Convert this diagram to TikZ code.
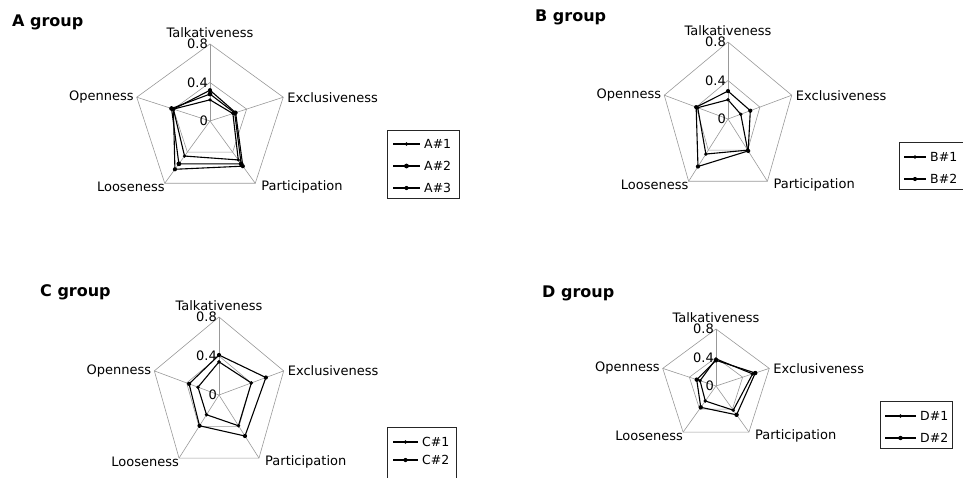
\documentclass[tikz,border=0pt]{standalone}
\usepackage{fontspec}
\setmainfont{DejaVu Sans}

\tikzset{
  gridline/.style={draw=black!40, line width=0.6pt},
  axlabel/.style={font=\fontsize{13}{15}\selectfont, inner sep=0pt},
  ticklabel/.style={font=\fontsize{13}{15}\selectfont, inner sep=0pt, anchor=east, xshift=-2pt},
  grouptitle/.style={font=\bfseries\fontsize{16}{18}\selectfont, anchor=west, inner sep=0pt},
  seriesline/.style={draw=black, line width=1.1pt, line join=round},
  legendbox/.style={draw=black!85, line width=1.3pt, anchor=north west, inner sep=0pt},
  legendtext/.style={font=\fontsize{12.5}{14}\selectfont, anchor=west, inner sep=0pt},
}

% Grid, spokes, axis names and tick labels of one radar chart (#1 = name prefix)
\newcommand\radarframe[1]{%
  \draw[gridline] (90:0.8) -- (18:0.8) -- (-54:0.8) -- (-126:0.8) -- (162:0.8) -- cycle;
  \draw[gridline] (90:0.4) -- (18:0.4) -- (-54:0.4) -- (-126:0.4) -- (162:0.4) -- cycle;
  \foreach \a in {90,18,-54,-126,162} \draw[gridline] (0,0) -- (\a:0.8);
  \node[axlabel, anchor=south, yshift=6pt] (#1-talk) at (90:0.8) {Talkativeness};
  \node[axlabel, anchor=west, xshift=4pt] (#1-excl) at (18:0.8) {Exclusiveness};
  \node[axlabel, anchor=west, xshift=6pt, yshift=-4pt] (#1-part) at (-54:0.8) {Participation};
  \node[axlabel, anchor=east, yshift=-4pt] (#1-loose) at (-126:0.8) {Looseness};
  \node[axlabel, anchor=east, xshift=-3pt] (#1-open) at (162:0.8) {Openness};
  \node[ticklabel] (#1-t8) at (90:0.8) {0.8};
  \node[ticklabel] (#1-t4) at (90:0.4) {0.4};
  \node[ticklabel] (#1-t0) at (0,0) {0};
}

% One data series: #1 marker radius, #2..#6 values for T, E, P, L, O
\newcommand\radarseries[6]{%
  \draw[seriesline] (90:#2) -- (18:#3) -- (-54:#4) -- (-126:#5) -- (162:#6) -- cycle;
  \foreach \a/\v in {90/#2,18/#3,-54/#4,-126/#5,162/#6} \fill (\a:\v) circle[radius=#1];
}

% Legend entry: #1 name, #2 line start x, #3 line end x, #4 y, #5 marker radius, #6 text
\newcommand\legendentry[6]{%
  \draw[seriesline] (#2,#4) -- (#3,#4);
  \fill ({(#2+#3)/2},#4) circle[radius=#5];
  \node[legendtext] (#1) at ({#3+4},#4) {#6};
}

\begin{document}
\begin{tikzpicture}[x=1pt, y=-1pt]
\useasboundingbox (0,0) rectangle (963,477);
\clip (0,0) rectangle (963,477);

% ---------- A group ----------
\node[grouptitle] (A-title) at (12,22) {A group};
\begin{scope}[shift={(210,121)}, x=96.25pt, y=96.25pt]
  \radarframe{A}
  \radarseries{1.8pt}{0.22}{0.25}{0.50}{0.45}{0.40}
  \radarseries{2.4pt}{0.28}{0.27}{0.55}{0.55}{0.42}
  \radarseries{2.1pt}{0.32}{0.28}{0.58}{0.62}{0.40}
\end{scope}
\node[legendbox, minimum width=72pt, minimum height=68pt] (A-leg) at (387,130) {};
\legendentry{A-l1}{393}{420}{144}{1.8pt}{A\#1}
\legendentry{A-l2}{393}{420}{166}{2.4pt}{A\#2}
\legendentry{A-l3}{393}{420}{188}{2.1pt}{A\#3}

% ---------- B group ----------
\node[grouptitle] (B-title) at (535,17) {B group};
\begin{scope}[shift={(728,119)}, x=83.75pt, y=96.25pt]
  \radarframe{B}
  \radarseries{1.9pt}{0.20}{0.16}{0.40}{0.45}{0.38}
  \radarseries{2.1pt}{0.29}{0.28}{0.41}{0.61}{0.40}
\end{scope}
\node[legendbox, minimum width=90pt, minimum height=47pt] (B-leg) at (899,142) {};
\legendentry{B-l1}{904}{926}{157}{1.9pt}{B\#1}
\legendentry{B-l2}{904}{926}{179}{2.1pt}{B\#2}

% ---------- C group ----------
\node[grouptitle] (C-title) at (40,292) {C group};
\begin{scope}[shift={(219,395)}, x=85pt, y=97.5pt]
  \radarframe{C}
  \radarseries{1.9pt}{0.34}{0.40}{0.39}{0.25}{0.26}
  \radarseries{2.1pt}{0.41}{0.58}{0.52}{0.39}{0.37}
\end{scope}
\node[legendbox, minimum width=69pt, minimum height=70pt] (C-leg) at (387,427) {};
\legendentry{C-l1}{393}{418}{442}{1.9pt}{C\#1}
\legendentry{C-l2}{393}{418}{460}{2.1pt}{C\#2}

% ---------- D group ----------
\node[grouptitle] (D-title) at (542,293) {D group};
\begin{scope}[shift={(716,386)}, x=70pt, y=71.25pt]
  \radarframe{D}
  \radarseries{1.9pt}{0.38}{0.55}{0.42}{0.26}{0.24}
  \radarseries{2.2pt}{0.36}{0.59}{0.50}{0.37}{0.29}
\end{scope}
\node[legendbox, minimum width=72pt, minimum height=47pt] (D-leg) at (880,401) {};
\legendentry{D-l1}{885}{916}{416}{1.9pt}{D\#1}
\legendentry{D-l2}{885}{916}{438}{2.2pt}{D\#2}

\end{tikzpicture}
\end{document}
